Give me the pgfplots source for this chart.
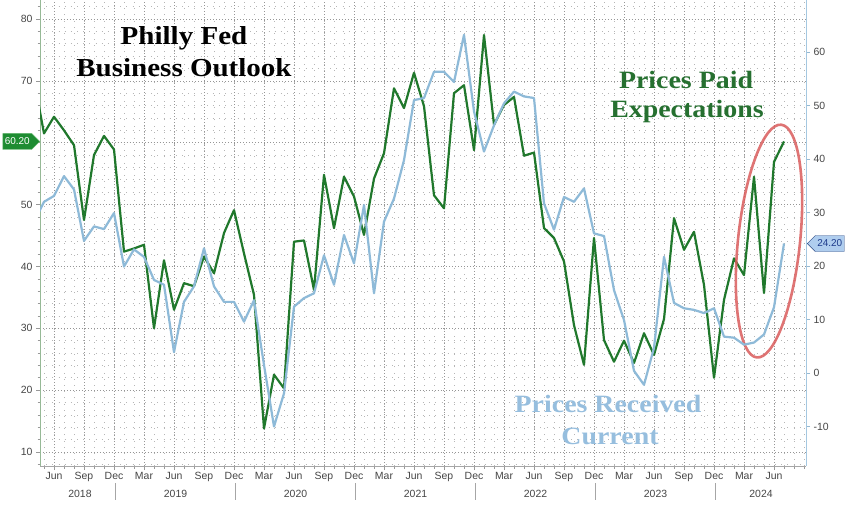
\documentclass[border=0pt]{standalone}
\usepackage{fontspec}
\setmainfont{Liberation Sans}
\newfontfamily\titlefont[FakeStretch=1.12]{Liberation Serif}
\usepackage{pgfplots}
\pgfplotsset{compat=1.18}
\usetikzlibrary{shapes.symbols}

\definecolor{pgreen}{RGB}{32,120,44}
\definecolor{pgreentxt}{RGB}{38,112,48}
\definecolor{pblue}{RGB}{142,186,216}
\definecolor{pbluetxt}{RGB}{150,190,222}
\definecolor{gridc}{RGB}{150,150,150}
\definecolor{ticktxt}{RGB}{70,70,70}
\definecolor{ellred}{RGB}{218,92,92}

\pgfplotstableread{
k v
-1 70.2
0 61.5
1 64.2
2 62.0
3 59.6
4 47.5
5 58.0
6 61.1
7 58.9
8 42.4
9 42.9
10 43.5
11 30.0
12 41.0
13 33.0
14 37.3
15 36.8
16 41.6
17 38.9
18 45.4
19 49.1
20 42.1
21 35.4
22 13.8
23 22.5
24 20.3
25 44.0
26 44.2
27 36.2
28 54.8
29 46.2
30 54.5
31 51.3
32 45.1
33 54.2
34 58.3
35 68.8
36 65.6
37 71.3
38 65.9
39 51.5
40 49.4
41 68.0
42 69.3
43 58.8
44 77.4
45 62.9
46 66.1
47 67.4
48 57.9
49 58.4
50 46.2
51 44.6
52 40.8
53 30.5
54 24.1
55 44.6
56 28.1
57 24.6
58 28.0
59 24.4
60 29.2
61 25.7
62 31.5
63 47.8
64 42.7
65 45.6
66 37.0
67 22.0
68 34.6
69 41.3
70 38.6
71 54.5
72 35.7
73 56.9
74 60.2
}\greendata

\pgfplotstableread{
k v
-1 28.2
0 32.0
1 33.1
2 36.8
3 34.3
4 24.7
5 27.4
6 26.9
7 29.9
8 19.9
9 23.1
10 21.7
11 17.4
12 16.5
13 3.9
14 13.3
15 16.2
16 23.3
17 16.2
18 13.3
19 13.3
20 9.6
21 13.6
22 1.5
23 -10.0
24 -3.8
25 12.4
26 14.0
27 14.9
28 22.0
29 16.5
30 25.8
31 20.5
32 31.4
33 14.9
34 28.3
35 32.6
36 39.8
37 51.0
38 51.4
39 56.3
40 56.3
41 54.4
42 63.2
43 48.9
44 41.4
45 46.3
46 50.4
47 52.6
48 51.7
49 51.4
50 31.7
51 26.8
52 32.9
53 32.0
54 34.5
55 26.1
56 25.6
57 15.5
58 9.9
59 0.4
60 -2.2
61 4.7
62 21.7
63 13.1
64 12.1
65 11.8
66 11.2
67 12.1
68 6.8
69 6.6
70 5.3
71 5.7
72 7.2
73 12.3
74 24.2
}\bluedata

\begin{document}
\begin{tikzpicture}
\useasboundingbox (0,0) rectangle (848bp,507bp);
\fill[white] (0,0) rectangle (848bp,507bp);
\begin{axis}[
  scale only axis, width=766bp, height=466bp,
  at={(40bp,41bp)}, anchor=south west,
  xmin=-0.4, xmax=76.2, ymin=7.74, ymax=83.07,
  axis x line*=bottom, axis y line*=left,
  clip mode=individual,
  xtick={1,4,...,73},
  xticklabels={Jun,Sep,Dec,Mar,Jun,Sep,Dec,Mar,Jun,Sep,Dec,Mar,Jun,Sep,Dec,Mar,Jun,Sep,Dec,Mar,Jun,Sep,Dec,Mar,Jun},
  minor xtick={0,...,76},
  ytick={10,20,...,80},
  yticklabels={10,20,30,40,50,{},70,80},
  minor ytick={8,12,14,16,18,22,24,26,28,32,34,36,38,42,44,46,48,52,54,56,58,62,64,66,68,72,74,76,78,82},
  tick align=outside,
  major tick length=4bp, minor tick length=2.5bp,
  tick style={gray!80, line width=0.6pt},
  x axis line style={gray!70, line width=0.8pt},
  y axis line style={color={rgb,255:red,150;green,185;blue,150}, line width=0.8pt},
  grid=both,
  major grid style={gridc, line width=0.7pt, dash pattern=on 0.7pt off 2.3pt},
  minor grid style={gridc!70, line width=0.7pt, dash pattern=on 0.7pt off 5.5pt},
  xmajorgrids=true, xminorgrids=true,
  /pgf/number format/assume math mode=true,
  ticklabel style={font=\fontsize{10.5}{12}\selectfont, text=ticktxt},
  xticklabel style={yshift=1bp},
]
\addplot[pgreen, line width=2.2bp, line join=round] table[x=k,y=v] {\greendata};
\coordinate (gl) at (axis cs:-0.4,60.2);
\foreach \xx in {7.15,19.15,31.15,43.15,55.15,67.15}{
  \edef\temp{\noexpand\draw[gray!70, line width=0.7pt] (axis cs:\xx,4.99) -- (axis cs:\xx,2.24);}
  \temp
}
\foreach \xx/\yy in {3.6/2018,13.15/2019,25.15/2020,37.15/2021,49.15/2022,61.15/2023,71.7/2024}{
  \edef\temp{\noexpand\node[anchor=base, font=\noexpand\fontsize{10.5}{12}\noexpand\selectfont, text=ticktxt, inner sep=0pt] at (axis cs:\xx,2.6) {\yy};}
  \temp
}
\draw[ellred, line width=2.6bp, opacity=0.85, rotate around={-6:(axis cs:72.5,44.1)}] (axis cs:72.5,44.1) ellipse [x radius=31bp, y radius=117bp];
\end{axis}
\begin{axis}[
  scale only axis, width=766bp, height=466bp,
  at={(40bp,41bp)}, anchor=south west,
  xmin=-0.4, xmax=76.2, ymin=-17.38, ymax=69.72,
  axis x line=none, axis y line*=right,
  ytick={-10,0,...,60},
  tick align=outside,
  major tick length=4bp,
  tick style={color={rgb,255:red,150;green,185;blue,210}, line width=0.6pt},
  y axis line style={color={rgb,255:red,165;green,200;blue,225}, line width=0.8pt},
  /pgf/number format/assume math mode=true,
  ticklabel style={font=\fontsize{10.5}{12}\selectfont, text=ticktxt},
]
\addplot[pblue, line width=2.2bp, line join=round] table[x=k,y=v] {\bluedata};
\coordinate (bl) at (axis cs:76.2,24.2);
\end{axis}
\node[signal, signal to=east, fill={rgb,255:red,30;green,140;blue,50}, draw={rgb,255:red,90;green,180;blue,100}, text=white, font=\fontsize{10}{11}\selectfont, inner sep=2pt, anchor=east, minimum height=16bp] at (gl) {60.20};
\node[signal, signal to=west, fill={rgb,255:red,175;green,205;blue,238}, draw={rgb,255:red,40;green,70;blue,130}, text={rgb,255:red,30;green,60;blue,140}, font=\fontsize{10}{11}\selectfont, inner sep=2pt, anchor=west, minimum height=16bp] at ([xshift=1bp]bl) {24.20};
\node[anchor=base, font=\titlefont\bfseries\fontsize{26}{30}\selectfont] at (184bp,462bp) {Philly Fed};
\node[anchor=base, font=\titlefont\bfseries\fontsize{26}{30}\selectfont] at (184bp,430bp) {Business Outlook};
\node[anchor=base, text=pgreentxt, font=\titlefont\bfseries\fontsize{25}{30}\selectfont] at (686bp,418bp) {Prices Paid};
\node[anchor=base, text=pgreentxt, font=\titlefont\bfseries\fontsize{25}{30}\selectfont] at (687bp,389bp) {Expectations};
\node[anchor=base, text=pbluetxt, font=\titlefont\bfseries\fontsize{25}{30}\selectfont] at (608bp,94bp) {Prices Received};
\node[anchor=base, text=pbluetxt, font=\titlefont\bfseries\fontsize{25}{30}\selectfont] at (610bp,62bp) {Current};
\end{tikzpicture}
\end{document}
